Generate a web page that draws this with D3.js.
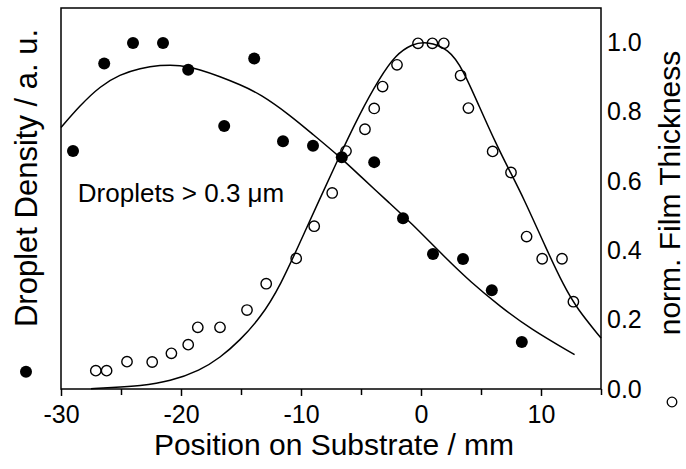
<!DOCTYPE html>
<html>
<head>
<meta charset="utf-8">
<script src="https://cdn.jsdelivr.net/npm/d3@7"></script>
<style>
  body { margin: 0; background: #fff; }
  svg { display: block; font-family: 'Liberation Sans', Arial, sans-serif; }
  .axis path, .axis line { stroke: #000; stroke-width: 1.5; }
  .axis text { fill: #000; font-family: 'Liberation Sans', Arial, sans-serif; }
</style>
</head>
<body>
<svg id="chart"></svg>
<script>
const W = 686
const H = 469
const margin = { top: 8, right: 85, bottom: 80, left: 61 }
const w = W - margin.left - margin.right
const h = H - margin.top - margin.bottom

// droplet density (filled dots, left axis, arbitrary units)
const dropletX = [-29.0, -26.4, -24.0, -21.5, -19.4, -16.4, -13.9, -11.5, -9.0, -6.6, -3.9, -1.5, 1.0, 3.5, 5.9, 8.4]
const dropletY = [0.687, 0.940, 0.999, 0.999, 0.922, 0.759, 0.954, 0.715, 0.702, 0.669, 0.655, 0.493, 0.390, 0.375, 0.285, 0.136]

// fitted curve through droplet data
const dropletFitX = [-30, -28.4, -26.75, -25.1, -23.4, -21.75, -20.1, -18.4, -16.75, -15.1, -13.4, -10.9, -9.25, -6.75, -5.1, -2.6, -0.9, 2.0, 4.1, 6.6, 9.1, 12.8]
const dropletFitY = [0.755, 0.819, 0.874, 0.908, 0.926, 0.935, 0.936, 0.922, 0.902, 0.879, 0.852, 0.790, 0.742, 0.670, 0.616, 0.536, 0.482, 0.380, 0.310, 0.238, 0.174, 0.099]

// normalized film thickness (open circles, right axis)
const thickX = [-27.1, -26.2, -24.5, -22.4, -20.8, -19.4, -18.6, -16.75, -14.5, -12.9, -10.4, -8.9, -7.4, -6.25, -4.67, -3.9, -3.2, -2.0, -0.25, 0.95, 1.9, 3.3, 3.95, 5.97, 7.5, 8.8, 10.1, 11.75, 12.7]
const thickY = [0.053, 0.053, 0.079, 0.078, 0.103, 0.128, 0.178, 0.178, 0.228, 0.304, 0.377, 0.470, 0.566, 0.687, 0.750, 0.810, 0.873, 0.936, 0.998, 0.998, 0.998, 0.905, 0.811, 0.686, 0.625, 0.44, 0.376, 0.376, 0.252]

// fitted curve through thickness data
const thickFitX = [-27.5, -25.9, -23.4, -20.9, -18.4, -16.75, -15.1, -13.4, -11.75, -9.67, -6.9, -5.1, -3.5, -2.1, -0.7, 0.4, 2.35, 3.5, 4.85, 6.25, 7.35, 8.5, 10.5, 11.9, 13.0, 15]
const thickFitY = [0.001, 0.004, 0.009, 0.022, 0.054, 0.090, 0.140, 0.205, 0.295, 0.455, 0.665, 0.795, 0.895, 0.966, 0.996, 1.004, 0.982, 0.922, 0.816, 0.708, 0.632, 0.555, 0.40, 0.298, 0.232, 0.147]

const xLabelTicks = [-30, -20, -10, 0, 10]
const xMinorTicks = [-25, -15, -5, 5, 15]
const yRightTicks = [0, 0.2, 0.4, 0.6, 0.8, 1.0]

const svg = d3.select('#chart').attr('width', W).attr('height', H)
const g = svg.append('g').attr('transform', `translate(${margin.left},${margin.top})`)

const x = d3.scaleLinear().domain([-30, 15]).range([0, w])
const yL = d3.scaleLinear().domain([0, 1.1]).range([h, 0])
const yR = d3.scaleLinear().domain([0, 1.1]).range([h, 0])

// frame
g.append('rect')
  .attr('width', w)
  .attr('height', h)
  .attr('fill', 'none')
  .attr('stroke', '#000')
  .attr('stroke-width', 1.5)

// bottom axis with labels (plain hyphen minus like the original)
const xAxis = g.append('g')
  .attr('class', 'axis')
  .attr('transform', `translate(0,${h})`)
  .call(d3.axisBottom(x).tickValues(xLabelTicks).tickSize(7).tickPadding(9).tickSizeOuter(0).tickFormat(d => String(d)))
xAxis.selectAll('text').style('font-size', '25px')
xAxis.select('.domain').remove()

g.append('g')
  .attr('class', 'axis')
  .attr('transform', `translate(0,${h})`)
  .call(d3.axisBottom(x).tickValues(xMinorTicks).tickSize(6).tickFormat(''))
  .select('.domain').remove()

// right axis: labels only
const rAxis = g.append('g')
  .attr('class', 'axis')
  .attr('transform', `translate(${w},0)`)
  .call(d3.axisRight(yR).tickValues(yRightTicks).tickSize(0).tickPadding(6).tickFormat(d3.format('.1f')))
rAxis.selectAll('text').style('font-size', '25px')
rAxis.select('.domain').remove()

// fitted lines
const line = d3.line()
  .x(d => x(d[0]))
  .y(d => d[2](d[1]))
  .curve(d3.curveBasis)

const dropletFit = dropletFitX.map((v, i) => [v, dropletFitY[i], yL])
const thickFit = thickFitX.map((v, i) => [v, thickFitY[i], yR])

g.selectAll('.fit')
  .data([dropletFit, thickFit])
  .join('path')
  .attr('class', 'fit')
  .attr('d', line)
  .attr('fill', 'none')
  .attr('stroke', '#000')
  .attr('stroke-width', 1.5)

// data points
g.selectAll('.thick')
  .data(thickX.map((v, i) => ({ x: v, y: thickY[i] })))
  .join('circle')
  .attr('class', 'thick')
  .attr('cx', d => x(d.x))
  .attr('cy', d => yR(d.y))
  .attr('r', 5.2)
  .attr('fill', 'none')
  .attr('stroke', '#000')
  .attr('stroke-width', 1.4)

g.selectAll('.droplet')
  .data(dropletX.map((v, i) => ({ x: v, y: dropletY[i] })))
  .join('circle')
  .attr('class', 'droplet')
  .attr('cx', d => x(d.x))
  .attr('cy', d => yL(d.y))
  .attr('r', 6)
  .attr('fill', '#000')

// annotation
g.append('text')
  .attr('x', x(-28.6))
  .attr('y', yL(0.541))
  .style('font-size', '26px')
  .text('Droplets > 0.3 \u03bcm')

// axis titles
svg.append('text')
  .attr('x', margin.left + w / 2 + 3)
  .attr('y', 455)
  .attr('text-anchor', 'middle')
  .style('font-size', '30px')
  .text('Position on Substrate / mm')

svg.append('text')
  .attr('transform', `translate(37,${margin.top + 170}) rotate(-90)`)
  .attr('text-anchor', 'middle')
  .style('font-size', '31px')
  .text('Droplet Density / a. u.')

svg.append('text')
  .attr('transform', `translate(680,${margin.top + 185}) rotate(-90)`)
  .attr('text-anchor', 'middle')
  .style('font-size', '30px')
  .text('norm. Film Thickness')

// series symbols next to the axis titles
svg.append('circle')
  .attr('cx', 26)
  .attr('cy', margin.top + yL(0.05))
  .attr('r', 6)
  .attr('fill', '#000')

svg.append('circle')
  .attr('cx', 672)
  .attr('cy', margin.top + h + 13)
  .attr('r', 4.8)
  .attr('fill', 'none')
  .attr('stroke', '#000')
  .attr('stroke-width', 1.3)
</script>
</body>
</html>
